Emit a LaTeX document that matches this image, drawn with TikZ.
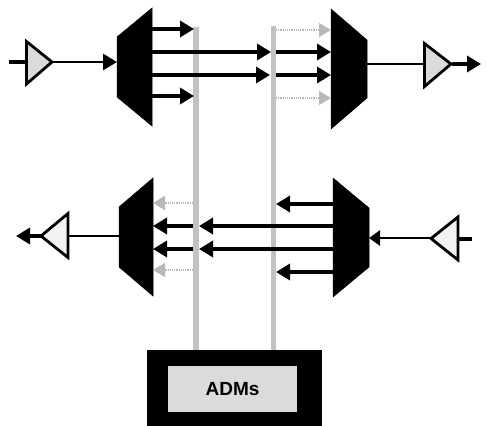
\documentclass[tikz,border=0pt]{standalone}
\usepackage{fontspec}
\setsansfont{Liberation Sans}
\usetikzlibrary{arrows.meta}
\tikzset{
  mux/.style={fill=black,draw=black,line width=.5pt},
  amp/.style={draw=black,line width=2.8pt,miter limit=10,line join=miter},
  ampup/.style={amp,fill=black!14},
  ampdown/.style={amp,fill=black!5},
  bar/.style={fill=black!24,draw=none},
  sig/.style={draw=black,line width=3.4pt},
  thin sig/.style={draw=black,line width=2.8pt},
  bigtip/.style={-{Triangle[length=14pt,width=16pt]}},
  smalltip/.style={-{Triangle[length=11pt,width=15pt]}},
  ghost/.style={draw=black!28,line width=1.2pt,densely dotted,
    -{Triangle[length=12pt,width=14pt,fill=black!28,color=black!28]}},
  admouter/.style={fill=black,draw=none,minimum width=175pt,minimum height=78pt,inner sep=0pt},
  admbox/.style={fill=black!14,draw=none,minimum width=129pt,minimum height=46pt,
    inner sep=0pt,font=\sffamily\bfseries\fontsize{19}{22}\selectfont}
}
\begin{document}
\begin{tikzpicture}[x=1pt,y=-1pt]
\useasboundingbox (0,0) rectangle (486,425);
% drop bars
\coordinate (b1t) at (193,27); \coordinate (b1b) at (199,350);
\coordinate (b2t) at (271,26); \coordinate (b2b) at (276,350);
\fill[bar] (b1t) rectangle (b1b);
\fill[bar] (b2t) rectangle (b2b);
% ADM box
\begin{scope}
\clip (0,0) rectangle (486,425);
\node[admouter] (admo) at (234.5,389) {};
\end{scope}
\node[admbox] (adm) at (232.5,389) {ADMs};
% muxes
\draw[mux] (117,37) coordinate (tlA) -- (152,8) -- (152,126) -- (117,97) -- cycle;
\draw[mux] (331,9) -- (367,40) coordinate (trA) -- (367,98) -- (331,129) -- cycle;
\draw[mux] (119,207) -- (153,178) -- (153,296) -- (119,267) -- cycle;
\draw[mux] (333,178) -- (369,208) -- (369,267) -- (333,297) -- cycle;
% amplifiers
\draw[ampup] (26.5,41.5) -- (52,62) -- (26.5,84) -- cycle;
\draw[ampup] (424.5,43.5) -- (451,64) -- (424.5,86.5) -- cycle;
\draw[ampdown] (68,213.5) -- (41,236) -- (68,257.5) -- cycle;
\draw[ampdown] (458,217) -- (431,238.5) -- (458,260) -- cycle;
% coordinates
\coordinate (tli) at (9,62); \coordinate (tla1) at (25,62);
\coordinate (tla2) at (53,62); \coordinate (tlm) at (117,62);
\coordinate (trm) at (367,64); \coordinate (tra1) at (423,64);
\coordinate (tra2) at (452,64); \coordinate (tro) at (481,64);
\coordinate (blo) at (16,236); \coordinate (bla2) at (41,236);
\coordinate (bla1) at (69,236); \coordinate (blm) at (119,236);
\coordinate (brm) at (369,238); \coordinate (bra2) at (430,238);
\coordinate (bra1) at (459,239); \coordinate (bri) at (472,239);
% top input/output
\draw[sig] (tli) -- (tla1);
\draw[thin sig,bigtip] (tla2) -- (tlm);
\draw[thin sig] (trm) -- (tra1);
\draw[sig,bigtip] (tra2) -- (tro);
% bottom input/output
\draw[sig,bigtip] (bla2) -- (blo);
\draw[thin sig] (bla1) -- (blm);
\draw[thin sig,smalltip] (bra2) -- (brm);
\draw[sig] (bra1) -- (bri);
% top channels
\coordinate (a1) at (152,29); \coordinate (a1e) at (194,29);
\coordinate (a4) at (152,96); \coordinate (a4e) at (194,96);
\coordinate (a2) at (152,52); \coordinate (a2e) at (271,52);
\coordinate (a3) at (152,75); \coordinate (a3e) at (270,75);
\coordinate (c2) at (276,52); \coordinate (c2e) at (331,52);
\coordinate (c3) at (276,75); \coordinate (c3e) at (331,75);
\coordinate (g1) at (276,30); \coordinate (g1e) at (331,30);
\coordinate (g4) at (276,98); \coordinate (g4e) at (331,98);
\draw[sig,bigtip] (a1) -- (a1e);
\draw[sig,bigtip] (a4) -- (a4e);
\draw[sig,bigtip] (a2) -- (a2e);
\draw[sig,bigtip] (a3) -- (a3e);
\draw[sig,bigtip] (c2) -- (c2e);
\draw[sig,bigtip] (c3) -- (c3e);
\draw[ghost] (g1) -- (g1e);
\draw[ghost] (g4) -- (g4e);
% bottom channels
\coordinate (d1) at (333,204); \coordinate (d1e) at (276,204);
\coordinate (d4) at (333,272); \coordinate (d4e) at (276,272);
\coordinate (d2) at (333,226); \coordinate (d2e) at (199,226);
\coordinate (d3) at (333,249); \coordinate (d3e) at (199,249);
\coordinate (e2) at (193,226); \coordinate (e2e) at (153,226);
\coordinate (e3) at (193,249); \coordinate (e3e) at (153,249);
\coordinate (h1) at (193,203); \coordinate (h1e) at (153,203);
\coordinate (h4) at (193,270); \coordinate (h4e) at (153,270);
\draw[sig,bigtip] (d1) -- (d1e);
\draw[sig,bigtip] (d4) -- (d4e);
\draw[sig,bigtip] (d2) -- (d2e);
\draw[sig,bigtip] (d3) -- (d3e);
\draw[sig,bigtip] (e2) -- (e2e);
\draw[sig,bigtip] (e3) -- (e3e);
\draw[ghost] (h1) -- (h1e);
\draw[ghost] (h4) -- (h4e);
\end{tikzpicture}
\end{document}
